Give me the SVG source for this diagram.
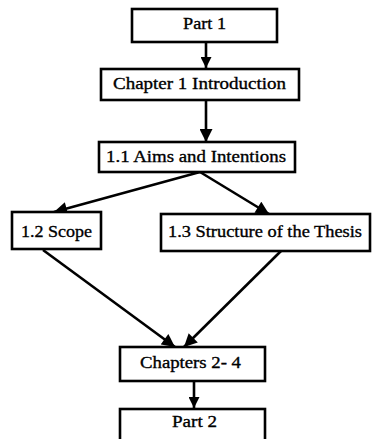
<svg xmlns="http://www.w3.org/2000/svg" width="373" height="439" viewBox="0 0 373 439">
  <style>
    .box { fill: #ffffff; stroke: #000000; stroke-width: 2.6; }
    .lbl { font-family: "Liberation Serif", "Times New Roman", serif; font-size: 17px; fill: #000000; stroke: #000000; stroke-width: 0.35; }
    .edge { fill: none; stroke: #000000; stroke-width: 2.6; }
  </style>
  <defs>
    <marker id="arrowSmall" viewBox="0 0 10 10" refX="10" refY="5" markerUnits="userSpaceOnUse" markerWidth="11" markerHeight="11" orient="auto">
      <path d="M0,0 L10,5 L0,10 Z" fill="#000000"/>
    </marker>
    <marker id="arrowLarge" viewBox="0 0 10 10" refX="10" refY="5" markerUnits="userSpaceOnUse" markerWidth="14" markerHeight="13" orient="auto">
      <path d="M0,0 L10,5 L0,10 Z" fill="#000000"/>
    </marker>
  </defs>
  <rect width="373" height="439" fill="#ffffff"/>

  <g id="connectors">
    <line class="edge" x1="206" y1="42" x2="206" y2="68" marker-end="url(#arrowSmall)"/>
    <line class="edge" x1="206" y1="100" x2="206" y2="142" marker-end="url(#arrowLarge)"/>
    <line class="edge" x1="200" y1="172" x2="54" y2="212" marker-end="url(#arrowLarge)"/>
    <line class="edge" x1="200" y1="172" x2="269" y2="214" marker-end="url(#arrowLarge)"/>
    <line class="edge" x1="43" y1="250" x2="175" y2="347" marker-end="url(#arrowLarge)"/>
    <line class="edge" x1="281" y1="251" x2="184" y2="347" marker-end="url(#arrowLarge)"/>
    <line class="edge" x1="194" y1="381" x2="194" y2="408" marker-end="url(#arrowSmall)"/>
  </g>

  <g id="part1">
    <rect class="box" x="132" y="9" width="145" height="33"/>
    <text class="lbl" x="183" y="29" textLength="43" lengthAdjust="spacingAndGlyphs">Part 1</text>
  </g>
  <g id="chapter1">
    <rect class="box" x="101" y="69" width="198" height="31"/>
    <text class="lbl" x="113" y="89" textLength="173" lengthAdjust="spacingAndGlyphs">Chapter 1 Introduction</text>
  </g>
  <g id="aims">
    <rect class="box" x="99" y="142" width="196" height="30"/>
    <text class="lbl" x="106" y="162" textLength="180" lengthAdjust="spacingAndGlyphs">1.1 Aims and Intentions</text>
  </g>
  <g id="scope">
    <rect class="box" x="12" y="212" width="89" height="37"/>
    <text class="lbl" x="21" y="237" textLength="71" lengthAdjust="spacingAndGlyphs">1.2 Scope</text>
  </g>
  <g id="structure">
    <rect class="box" x="161" y="214" width="209" height="37"/>
    <text class="lbl" x="168" y="237" textLength="194" lengthAdjust="spacingAndGlyphs">1.3 Structure of the Thesis</text>
  </g>
  <g id="chapters2to4">
    <rect class="box" x="120" y="347" width="145" height="34"/>
    <text class="lbl" x="140" y="368" textLength="101" lengthAdjust="spacingAndGlyphs">Chapters 2- 4</text>
  </g>
  <g id="part2">
    <rect class="box" x="120" y="409" width="145" height="40"/>
    <text class="lbl" x="172" y="427" textLength="45" lengthAdjust="spacingAndGlyphs">Part 2</text>
  </g>
</svg>
